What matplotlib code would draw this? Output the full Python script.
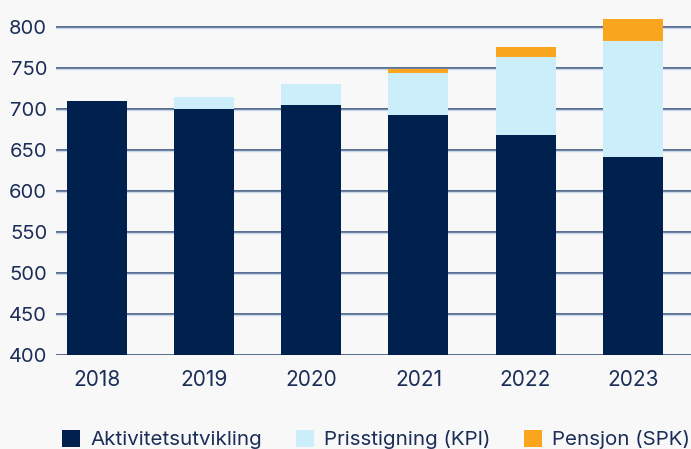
import matplotlib
matplotlib.use("Agg")
import matplotlib.pyplot as plt
import numpy as np

years = ["2018", "2019", "2020", "2021", "2022", "2023"]
aktivitet = [710, 700, 705, 693, 668, 642]
kpi = [0, 15, 25, 51, 95, 141]
spk = [0, 0, 0, 5, 12, 27]
series_names = ["Aktivitetsutvikling", "Prisstigning (KPI)", "Pensjon (SPK)"]
yticks = [400, 450, 500, 550, 600, 650, 700, 750, 800]

plt.rcParams['font.family'] = ['Inter', 'DejaVu Sans']
bg = '#f8f8f9'
navy = '#00214d'
light = '#cceefa'
orange = '#f9a61e'
txt = '#1b2e57'

fig = plt.figure(figsize=(6.91, 4.49), dpi=100, facecolor=bg)
ax = fig.add_axes([56/691, 1-355/449, 1-56/691, 352.6/449])
ax.set_facecolor(bg)

x = np.arange(len(years))
w = 0.56
a = np.array(aktivitet); k = np.array(kpi); s = np.array(spk)
b1 = ax.bar(x, a - 400, bottom=400, width=w, color=navy, zorder=3, label=series_names[0])
b2 = ax.bar(x, k, bottom=a, width=w, color=light, zorder=3, label=series_names[1])
b3 = ax.bar(x, s, bottom=a + k, width=w, color=orange, zorder=3, label=series_names[2])

ax.set_ylim(400, 830)
ax.set_xlim(-0.385, 5.545)
ax.set_yticks(yticks)
ax.set_xticks(x)
ax.set_xticklabels(years)
for sp in ax.spines.values():
    sp.set_visible(False)
ax.tick_params(axis='both', length=0, colors=txt)
ax.tick_params(axis='y', pad=6.3, labelsize=14.5)
ax.tick_params(axis='x', pad=11, labelsize=15)
ax.yaxis.grid(True, color='#2a4775', lw=1.1, zorder=2)
ax.set_axisbelow(True)
for yv in yticks:
    ax.axhline(yv - 1.2, color='#c9d6e8', lw=1.0, zorder=1)

leg = fig.legend(handles=[b1, b2, b3], labels=series_names, loc='lower left',
                 bbox_to_anchor=(44/691, -0.042), ncol=3, frameon=False,
                 fontsize=14.8, handlelength=0.87, handleheight=0.87,
                 columnspacing=1.62, handletextpad=0.5)
for t in leg.get_texts():
    t.set_color(txt)

fig.savefig("out.png", dpi=100, facecolor=bg)
